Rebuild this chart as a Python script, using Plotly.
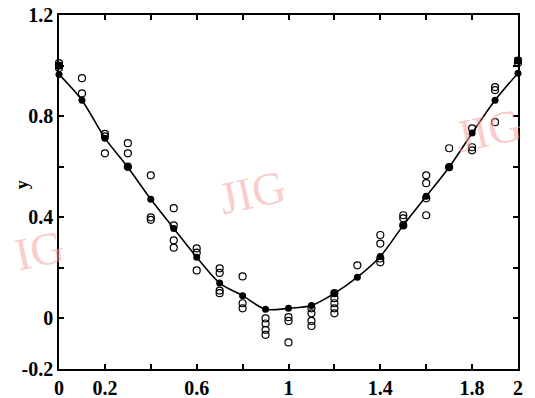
import plotly.graph_objects as go

# fitted curve (filled points)
fit_x = [0.0, 0.1, 0.2, 0.3, 0.4, 0.5, 0.6, 0.7, 0.8, 0.9, 1.0,
         1.1, 1.2, 1.3, 1.4, 1.5, 1.6, 1.7, 1.8, 1.9, 2.0]
fit_y = [0.965, 0.863, 0.713, 0.598, 0.471, 0.356, 0.242, 0.140, 0.090, 0.036, 0.040,
         0.051, 0.099, 0.163, 0.245, 0.368, 0.483, 0.598, 0.733, 0.863, 0.970]

# extra filled squares at ends
end_x = [0.0, 2.0]
end_y = [1.0, 1.02]

# measured samples (open circles)
obs_x = [0.0, 0.0, 0.0,
         0.1, 0.1,
         0.2, 0.2, 0.2,
         0.3, 0.3, 0.3,
         0.4, 0.4, 0.4,
         0.5, 0.5, 0.5, 0.5,
         0.6, 0.6, 0.6,
         0.7, 0.7, 0.7, 0.7,
         0.8, 0.8, 0.8,
         0.9, 0.9, 0.9, 0.9,
         1.0, 1.0, 1.0,
         1.1, 1.1, 1.1, 1.1,
         1.2, 1.2, 1.2, 1.2, 1.2,
         1.3,
         1.4, 1.4, 1.4, 1.4,
         1.5, 1.5, 1.5,
         1.6, 1.6, 1.6, 1.6,
         1.7, 1.7,
         1.8, 1.8, 1.8,
         1.9, 1.9, 1.9,
         2.0, 2.0]
obs_y = [0.99, 1.00, 1.01,
         0.95, 0.89,
         0.73, 0.72, 0.653,
         0.693, 0.653, 0.60,
         0.566, 0.40, 0.39,
         0.436, 0.368, 0.309, 0.28,
         0.277, 0.26, 0.19,
         0.198, 0.18, 0.11, 0.10,
         0.166, 0.06, 0.04,
         0.0, -0.02, -0.045, -0.065,
         0.005, -0.01, -0.095,
         0.04, 0.02, -0.01, -0.03,
         0.10, 0.08, 0.06, 0.04, 0.02,
         0.21,
         0.33, 0.296, 0.237, 0.222,
         0.408, 0.396, 0.368,
         0.566, 0.535, 0.475, 0.408,
         0.673, 0.598,
         0.752, 0.677, 0.665,
         0.915, 0.903, 0.776,
         1.02, 1.01]

x_ticks = [0, 0.2, 0.4, 0.6, 0.8, 1.0, 1.2, 1.4, 1.6, 1.8, 2.0]
x_labels = ["0", "0.2", "", "0.6", "", "1", "", "1.4", "", "1.8", "2"]
y_ticks = [-0.2, 0, 0.2, 0.4, 0.6, 0.8, 1.0, 1.2]
y_labels = ["-0.2", "0", "", "0.4", "", "0.8", "", "1.2"]

fig = go.Figure()
fig.add_trace(go.Scatter(x=obs_x, y=obs_y, mode="markers",
                         marker=dict(symbol="circle-open", size=7, color="black",
                                     line=dict(width=1.2, color="black")),
                         cliponaxis=False, showlegend=False))
fig.add_trace(go.Scatter(x=fit_x, y=fit_y, mode="lines+markers",
                         line=dict(color="black", width=1.6, shape="spline", smoothing=0.8),
                         marker=dict(symbol="circle", size=7, color="black"),
                         cliponaxis=False, showlegend=False))
fig.add_trace(go.Scatter(x=end_x, y=end_y, mode="markers",
                         marker=dict(symbol="square", size=7, color="black"),
                         cliponaxis=False, showlegend=False))

tickfont = dict(family="Liberation Serif", size=20, color="black", weight="bold")
fig.update_layout(
    width=527, height=390,
    margin=dict(l=51, r=17, t=7, b=29),
    paper_bgcolor="white", plot_bgcolor="white",
    xaxis=dict(range=[0, 2], tickvals=x_ticks, ticktext=x_labels, automargin=False,
               ticks="inside", ticklen=5, tickwidth=1.5, tickcolor="black",
               showline=True, linecolor="black", linewidth=1.5, mirror="ticks",
               showgrid=False, zeroline=False, tickfont=tickfont,
               ticklabeloverflow="allow"),
    yaxis=dict(range=[-0.2, 1.2], tickvals=y_ticks, ticktext=y_labels, automargin=False,
               ticks="inside", ticklen=5, tickwidth=1.5, tickcolor="black",
               showline=True, linecolor="black", linewidth=1.5, mirror="ticks",
               showgrid=False, zeroline=False, tickfont=tickfont,
               ticklabeloverflow="allow"),
)

# axis titles
fig.add_annotation(text="x", xref="paper", yref="paper", x=0.503, y=-0.075,
                   xanchor="center", yanchor="top", showarrow=False,
                   font=dict(family="Liberation Serif", size=18, color="black", weight="bold"))
fig.add_annotation(text="y", xref="paper", yref="paper", x=-0.08, y=0.52,
                   xanchor="center", yanchor="middle", showarrow=False, textangle=-90,
                   font=dict(family="Liberation Serif", size=18, color="black", weight="bold"))

wm = dict(family="Liberation Serif", size=46, color="rgba(246,160,160,0.55)")
fig.add_annotation(text="IG", xref="paper", yref="paper", x=-0.042, y=0.336,
                   xanchor="center", yanchor="middle", showarrow=False, font=wm, textangle=-12)
fig.add_annotation(text="JIG", xref="paper", yref="paper", x=0.42, y=0.50,
                   xanchor="center", yanchor="middle", showarrow=False, font=wm, textangle=-12)
fig.add_annotation(text="JIG", xref="paper", yref="paper", x=0.935, y=0.675,
                   xanchor="center", yanchor="middle", showarrow=False, font=wm, textangle=-12)

fig.write_html("out.html")
